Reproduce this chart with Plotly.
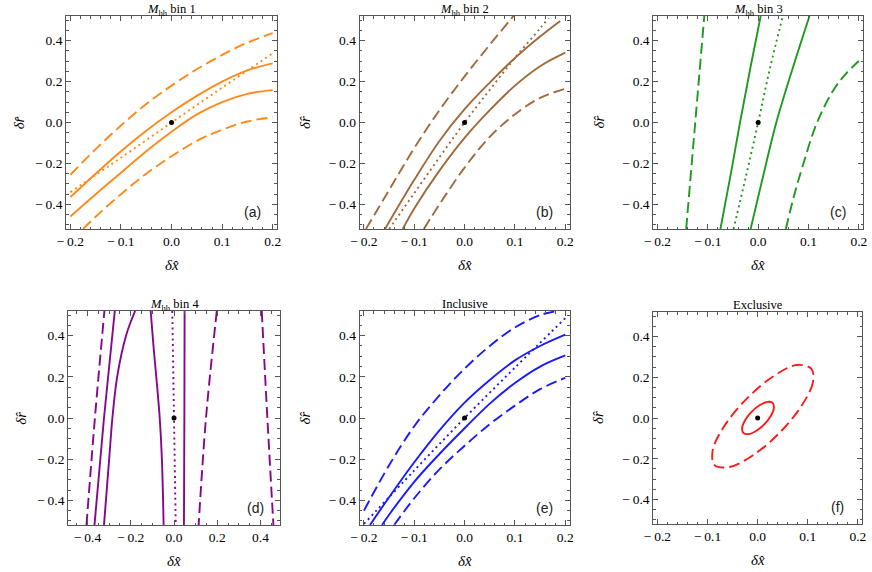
import plotly.graph_objects as go

# ---------------- data ----------------
# Panel (a)  M_hh bin 1
A_DASH1_X = [-0.2, -0.15, -0.1, -0.05, 0.0, 0.05, 0.1, 0.15, 0.2]
A_DASH1_Y = [-0.255, -0.13, -0.015, 0.09, 0.18, 0.26, 0.33, 0.39, 0.436]
A_SOL1_X = [-0.2, -0.15, -0.1, -0.05, 0.0, 0.05, 0.1, 0.15, 0.2]
A_SOL1_Y = [-0.364, -0.25, -0.14, -0.04, 0.05, 0.13, 0.2, 0.255, 0.289]
A_DOT_X = [-0.2, -0.1, 0.0, 0.1, 0.2]
A_DOT_Y = [-0.34, -0.172, 0.0, 0.17, 0.338]
A_SOL2_X = [-0.2, -0.15, -0.1, -0.05, 0.0, 0.05, 0.1, 0.15, 0.2]
A_SOL2_Y = [-0.459, -0.35, -0.245, -0.14, -0.045, 0.04, 0.1, 0.14, 0.158]
A_DASH2_X = [-0.175, -0.15, -0.1, -0.05, 0.0, 0.05, 0.1, 0.15, 0.2]
A_DASH2_Y = [-0.52, -0.46, -0.35, -0.25, -0.165, -0.09, -0.035, 0.005, 0.025]

# Panel (b)  M_hh bin 2
B_DASH1_X = [-0.196, -0.15, -0.1, -0.05, 0.0, 0.05, 0.092, 0.1]
B_DASH1_Y = [-0.52, -0.33, -0.125, 0.06, 0.225, 0.38, 0.505, 0.53]
B_SOL1_X = [-0.158, -0.1, -0.05, 0.0, 0.05, 0.1, 0.15, 0.19]
B_SOL1_Y = [-0.52, -0.28, -0.09, 0.065, 0.195, 0.315, 0.42, 0.496]
B_DOT_X = [-0.15, -0.1, -0.05, 0.0, 0.05, 0.1, 0.15, 0.167]
B_DOT_Y = [-0.52, -0.345, -0.17, 0.0, 0.16, 0.315, 0.46, 0.51]
B_SOL2_X = [-0.123, -0.1, -0.05, 0.0, 0.05, 0.1, 0.15, 0.2]
B_SOL2_Y = [-0.52, -0.42, -0.235, -0.075, 0.06, 0.18, 0.275, 0.341]
B_DASH2_X = [-0.081, -0.05, 0.0, 0.05, 0.1, 0.15, 0.2]
B_DASH2_Y = [-0.52, -0.4, -0.22, -0.07, 0.04, 0.12, 0.165]

# Panel (c)  M_hh bin 3
C_DASH1_X = [-0.143, -0.125, -0.107]
C_DASH1_Y = [-0.52, 0.0, 0.52]
C_SOL1_X = [-0.075, -0.055, -0.036, -0.016, 0.005]
C_SOL1_Y = [-0.52, -0.26, 0.0, 0.26, 0.52]
C_DOT_X = [-0.049, -0.024, 0.0, 0.023, 0.049]
C_DOT_Y = [-0.52, -0.26, 0.0, 0.26, 0.52]
C_SOL2_X = [-0.015, 0.01, 0.036, 0.068, 0.102]
C_SOL2_Y = [-0.52, -0.26, 0.0, 0.26, 0.52]
C_DASH2_X = [0.055, 0.07, 0.09, 0.117, 0.15, 0.175, 0.2]
C_DASH2_Y = [-0.52, -0.37, -0.2, 0.0, 0.16, 0.24, 0.3]

# Panel (d)  M_hh bin 4
D_DASH1_X = [-0.405, -0.366, -0.322]
D_DASH1_Y = [-0.52, 0.0, 0.52]
D_SOL1_X = [-0.368, -0.324, -0.274]
D_SOL1_Y = [-0.52, 0.0, 0.52]
D_SOL2_X = [-0.324, -0.3, -0.285, -0.263, -0.222, -0.18]
D_SOL2_Y = [-0.52, -0.2, 0.0, 0.2, 0.4, 0.52]
D_SOL3_X = [-0.108, -0.095, -0.082, -0.066, -0.056, -0.048]
D_SOL3_Y = [0.52, 0.35, 0.2, 0.0, -0.2, -0.52]
D_DOT_X = [-0.008, 0.0, 0.008]
D_DOT_Y = [0.52, 0.0, -0.52]
D_SOL4_X = [0.049, 0.048, 0.046]
D_SOL4_Y = [0.52, 0.0, -0.52]
D_DASH2_X = [0.198, 0.148, 0.114]
D_DASH2_Y = [0.52, 0.0, -0.52]
D_DASH3_X = [0.406, 0.432, 0.46]
D_DASH3_Y = [0.52, 0.0, -0.52]

# Panel (e)  Inclusive
E_DASH1_X = [-0.2, -0.15, -0.1, -0.05, 0.0, 0.05, 0.1, 0.15, 0.185]
E_DASH1_Y = [-0.45, -0.23, -0.04, 0.11, 0.24, 0.35, 0.44, 0.5, 0.52]
E_DOT_X = [-0.2, -0.1, 0.0, 0.1, 0.2]
E_DOT_Y = [-0.515, -0.255, 0.0, 0.245, 0.485]
E_SOL1_X = [-0.188, -0.15, -0.1, -0.05, 0.0, 0.05, 0.1, 0.15, 0.2]
E_SOL1_Y = [-0.52, -0.385, -0.215, -0.06, 0.075, 0.185, 0.28, 0.35, 0.405]
E_SOL2_X = [-0.164, -0.15, -0.1, -0.05, 0.0, 0.05, 0.1, 0.15, 0.2]
E_SOL2_Y = [-0.52, -0.47, -0.31, -0.175, -0.05, 0.07, 0.17, 0.25, 0.304]
E_DASH2_X = [-0.14, -0.1, -0.05, 0.0, 0.05, 0.1, 0.15, 0.2]
E_DASH2_Y = [-0.52, -0.39, -0.25, -0.135, -0.03, 0.06, 0.14, 0.195]

# Panel (f)  Exclusive (closed contours, points read around each loop)
F_DASH_X = [0.1068, 0.1105, 0.0873, 0.0435, -0.0092, -0.0566, -0.0860, -0.0897,
            -0.0665, -0.0227, 0.0300, 0.0773, 0.1068]
F_DASH_Y = [0.2427, 0.1771, 0.0588, -0.0730, -0.1825, -0.2404, -0.2313, -0.1576,
            -0.0393, 0.0924, 0.2023, 0.2599, 0.2427]
F_SOL_X = [0.0299, 0.0323, 0.0261, 0.0131, -0.0032, -0.0185, -0.0286, -0.0310,
           -0.0248, -0.0118, 0.0045, 0.0198, 0.0299]
F_SOL_Y = [0.0740, 0.0479, 0.0097, -0.0312, -0.0636, -0.0791, -0.0732, -0.0479,
           -0.0097, 0.0312, 0.0636, 0.0791, 0.0740]

BEST_X = [0.0]
BEST_Y = [0.0]

TITLES = ["<i>M</i><sub>hh</sub> bin 1", "<i>M</i><sub>hh</sub> bin 2", "<i>M</i><sub>hh</sub> bin 3",
          "<i>M</i><sub>hh</sub> bin 4", "Inclusive", "Exclusive"]
LABELS = ["(a)", "(b)", "(c)", "(d)", "(e)", "(f)"]
COLORS = ["#ff8a1a", "#a06a3a", "#1f9a1f", "#86088a", "#1a1aff", "#ff1a1a"]

X_TICKS = [-0.2, -0.1, 0.0, 0.1, 0.2]
X_TICK_TEXT = ["\u2212\u20090.2", "\u2212\u20090.1", "0.0", "0.1", "0.2"]
X_TICKS_D = [-0.4, -0.2, 0.0, 0.2, 0.4]
X_TICK_TEXT_D = ["\u2212\u20090.4", "\u2212\u20090.2", "0.0", "0.2", "0.4"]
Y_TICKS = [-0.4, -0.2, 0.0, 0.2, 0.4]
Y_TICK_TEXT = ["\u2212\u20090.4", "\u2212\u20090.2", "0.0", "0.2", "0.4"]

CURVES = [
    [(A_DASH1_X, A_DASH1_Y, "dash"), (A_SOL1_X, A_SOL1_Y, "solid"), (A_DOT_X, A_DOT_Y, "dot"),
     (A_SOL2_X, A_SOL2_Y, "solid"), (A_DASH2_X, A_DASH2_Y, "dash")],
    [(B_DASH1_X, B_DASH1_Y, "dash"), (B_SOL1_X, B_SOL1_Y, "solid"), (B_DOT_X, B_DOT_Y, "dot"),
     (B_SOL2_X, B_SOL2_Y, "solid"), (B_DASH2_X, B_DASH2_Y, "dash")],
    [(C_DASH1_X, C_DASH1_Y, "dash"), (C_SOL1_X, C_SOL1_Y, "solid"), (C_DOT_X, C_DOT_Y, "dot"),
     (C_SOL2_X, C_SOL2_Y, "solid"), (C_DASH2_X, C_DASH2_Y, "dash")],
    [(D_DASH1_X, D_DASH1_Y, "dash"), (D_SOL1_X, D_SOL1_Y, "solid"), (D_SOL2_X, D_SOL2_Y, "solid"),
     (D_SOL3_X, D_SOL3_Y, "solid"), (D_DOT_X, D_DOT_Y, "dot"), (D_SOL4_X, D_SOL4_Y, "solid"),
     (D_DASH2_X, D_DASH2_Y, "dash"), (D_DASH3_X, D_DASH3_Y, "dash")],
    [(E_DASH1_X, E_DASH1_Y, "dash"), (E_DOT_X, E_DOT_Y, "dot"), (E_SOL1_X, E_SOL1_Y, "solid"),
     (E_SOL2_X, E_SOL2_Y, "solid"), (E_DASH2_X, E_DASH2_Y, "dash")],
    [(F_DASH_X, F_DASH_Y, "dash"), (F_SOL_X, F_SOL_Y, "solid")],
]

# ---------------- layout (pixel frames) ----------------
W, H = 872, 572
FRAMES = [  # left, right, top, bottom in px
    (58, 272, 16, 229), (356, 569, 16, 229), (654, 867, 16, 229),
    (60, 275, 311, 525), (356, 569, 311, 525), (654, 866, 312, 524),
]
DASHES = {"dash": "11px,5px", "dot": "2px,3.5px", "solid": "solid"}

fig = go.Figure()
annotations = []
SERIF = "Liberation Serif"

for i in range(6):
    n = "" if i == 0 else str(i + 1)
    xa, ya = "x" + n, "y" + n
    col = COLORS[i]
    for xs, ys, style in CURVES[i]:
        fig.add_trace(go.Scatter(
            x=xs, y=ys, mode="lines", xaxis=xa, yaxis=ya, showlegend=False,
            line=dict(color=col, width=1.9, dash=DASHES[style], shape="spline", smoothing=1.0),
            hoverinfo="skip"))
    fig.add_trace(go.Scatter(x=BEST_X, y=BEST_Y, mode="markers", xaxis=xa, yaxis=ya,
                             showlegend=False, marker=dict(color="black", size=5),
                             hoverinfo="skip"))

    l, r, t, b = FRAMES[i]
    xdom = [l / W, r / W]
    ydom = [1 - b / H, 1 - t / H]
    if i == 3:
        xrange, xt, xtt, xminor = [-0.49, 0.49], X_TICKS_D, X_TICK_TEXT_D, 0.05
    else:
        xrange, xt, xtt, xminor = [-0.2084, 0.2084], X_TICKS, X_TICK_TEXT, 0.02
    common = dict(showgrid=False, zeroline=False, showline=True, linecolor="#555",
                  linewidth=1, mirror="allticks", ticks="inside", ticklen=5, tickwidth=1,
                  tickcolor="#555", tickfont=dict(family=SERIF, size=13.5, color="black"))
    fig.update_layout(**{
        "xaxis" + n: dict(domain=xdom, range=xrange, anchor=ya, tickvals=xt, ticktext=xtt,
                          minor=dict(dtick=xminor, tick0=0, ticks="inside", ticklen=2.5,
                                     tickcolor="#555", showgrid=False), **common),
        "yaxis" + n: dict(domain=ydom, range=[-0.52, 0.52], anchor=xa, tickvals=Y_TICKS,
                          ticktext=Y_TICK_TEXT,
                          minor=dict(dtick=0.05, tick0=0, ticks="inside", ticklen=2.5,
                                     tickcolor="#555", showgrid=False), **common),
    })
    cx = (l + r) / 2 / W
    annotations.append(dict(text=TITLES[i], x=cx, y=1 - (t - 16.5) / H, xref="paper",
                            yref="paper", xanchor="center", yanchor="top", showarrow=False,
                            font=dict(family=SERIF, size=12.5, color="black")))
    annotations.append(dict(text="<i>δx̂</i>", x=cx, y=1 - (b + 36) / H, xref="paper",
                            yref="paper", xanchor="center", yanchor="middle", showarrow=False,
                            font=dict(family=SERIF, size=15, color="black")))
    yoff = 48 if i in (0, 3) else 56
    annotations.append(dict(text="<i>δr̂</i>", x=(l - yoff) / W, y=1 - (t + b) / 2 / H,
                            xref="paper", yref="paper", xanchor="center", yanchor="middle",
                            textangle=-90, showarrow=False,
                            font=dict(family=SERIF, size=15, color="black")))
    annotations.append(dict(text=LABELS[i], x=(r - 25) / W, y=1 - (b - 17) / H, xref="paper",
                            yref="paper", xanchor="center", yanchor="middle", showarrow=False,
                            font=dict(family="Liberation Sans", size=14, color="#222")))

fig.update_layout(width=W, height=H, margin=dict(l=0, r=0, t=0, b=0),
                  paper_bgcolor="white", plot_bgcolor="white", annotations=annotations)
fig.write_html("out.html", config={"displayModeBar": False},
               post_script="document.body.style.margin='0';")
